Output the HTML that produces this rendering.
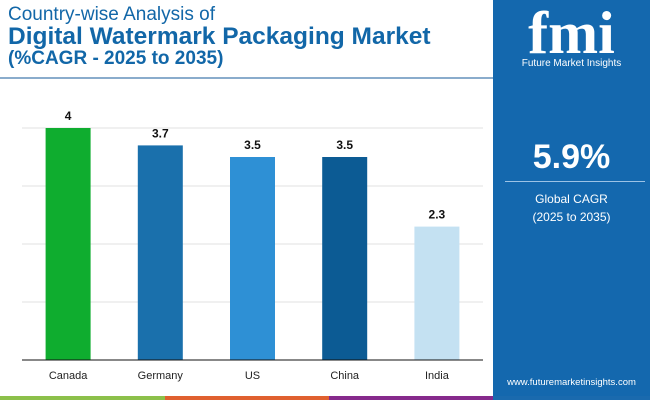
<!DOCTYPE html>
<html><head><meta charset="utf-8"><style>
body{margin:0;width:650px;height:400px;overflow:hidden;background:#fff;font-family:"Liberation Sans",sans-serif;position:relative}
.t{position:absolute;left:8px;color:#1267a8;white-space:nowrap}
</style></head><body>
<div class="t" style="top:4px;font-size:19px">Country-wise Analysis of</div>
<div class="t" style="top:23px;font-size:24.5px;font-weight:bold">Digital Watermark Packaging Market</div>
<div class="t" style="top:48px;font-size:19px;font-weight:bold">(%CAGR - 2025 to 2035)</div>
<div style="position:absolute;left:0;top:77px;width:493px;height:2px;background:#8aaccc"></div>
<svg id="chart" width="493" height="396" style="position:absolute;left:0;top:0"></svg>
<div style="position:absolute;left:0;top:396px;width:650px;height:4px;display:flex">
<div style="width:165px;background:#8cc04a"></div><div style="width:164px;background:#e0602f"></div><div style="width:164px;background:#862a8c"></div><div style="flex:1;background:#1a6aae"></div></div>
<div style="position:absolute;left:493px;top:0;width:157px;height:396px;background:#1468ae;color:#fff;text-align:center">
<div style="position:absolute;top:2px;left:0;width:157px;font-size:60px;font-weight:bold;font-family:'Liberation Serif',serif;line-height:62px">fmi</div>
<div style="position:absolute;top:58px;left:0;width:157px;font-size:10px">Future Market Insights</div>
<div style="position:absolute;top:138px;left:0;width:157px;font-size:34px;font-weight:bold">5.9%</div>
<div style="position:absolute;top:181px;left:12px;width:140px;height:1px;background:#9cc3e6"></div>
<div style="position:absolute;top:190px;left:0;width:157px;font-size:12px;line-height:18px">Global CAGR<br>(2025 to 2035)</div>
<div style="position:absolute;top:377px;left:0;width:157px;font-size:9.5px">www.futuremarketinsights.com</div>
</div>
<script>
const categories=["Canada","Germany","US","China","India"];
const values=[4,3.7,3.5,3.5,2.3];
const labels=["4","3.7","3.5","3.5","2.3"];
const colors=["#0fad2f","#1a70ac","#2e90d5","#0c5b94","#c4e1f2"];
const ticks=[1,2,3,4];
const svg=document.getElementById('chart');const NS="http://www.w3.org/2000/svg";
const x0=22,x1=483,y0=360,yTop=128,maxV=4;
const y=v=>y0-(v/maxV)*(y0-yTop);
const band=(x1-x0)/categories.length;
const bx=i=>x0+band*i+band/2;
function mk(t,a){const e=document.createElementNS(NS,t);for(const k in a)e.setAttribute(k,a[k]);svg.appendChild(e);return e;}
ticks.forEach(t=>{const g=mk('line',{x1:x0,x2:x1,y1:y(t),y2:y(t),stroke:'#e2e2e2','stroke-width':1});

});
categories.forEach((c,i)=>{
const r=mk('rect',{x:bx(i)-22.5,y:y(values[i]),width:45,height:y0-y(values[i]),fill:colors[i]});


const l=mk('text',{x:bx(i),y:y(values[i])-8,'text-anchor':'middle','font-size':12,'font-weight':'bold',fill:'#111'});l.textContent=labels[i];


const c2=mk('text',{x:bx(i),y:379,'text-anchor':'middle','font-size':11,fill:'#222'});c2.textContent=c;


});
const ax=mk('line',{x1:x0,x2:x1,y1:y0,y2:y0,stroke:'#111','stroke-width':1});


</script>
</body></html>
